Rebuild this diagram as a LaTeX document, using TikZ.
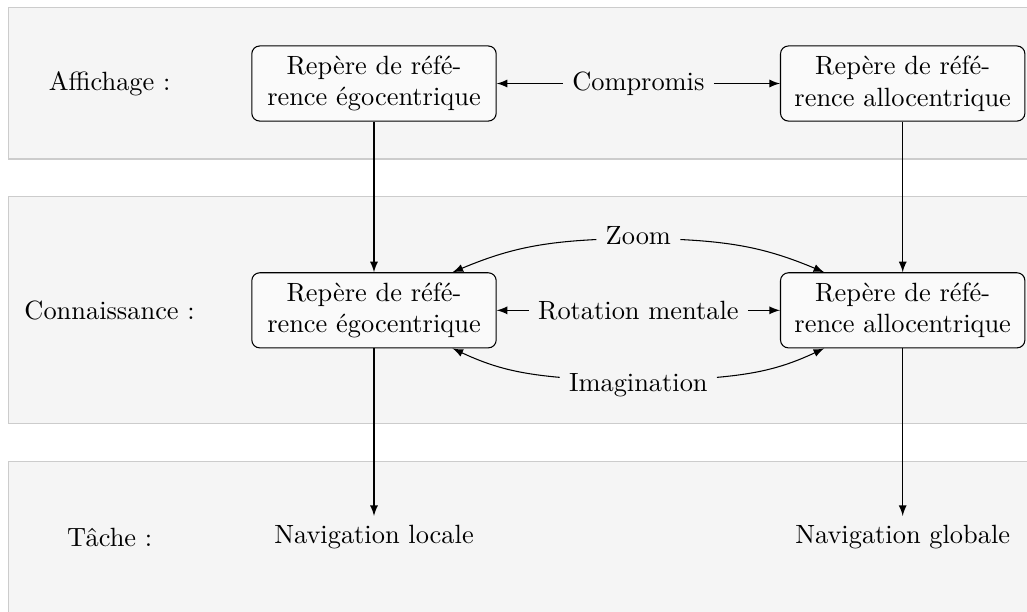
\documentclass[tikz,border=0pt]{standalone}
\usepackage{tikz}
\usetikzlibrary{shapes.geometric, arrows}
\tikzstyle{repere} = [rectangle, rounded corners=3pt, text width=3.02cm, align=center, minimum height=1cm, draw=black, fill=black!2]
\tikzstyle{niveau} = [text centered]
\tikzstyle{arrow} = [->,>=latex]
\tikzstyle{bande} = [fill=black!4]
\tikzstyle{bord} = [draw=black!20]

\begin{document}
\begin{tikzpicture}[node distance=3.52cm, auto]

        % Bandes de fond
        \useasboundingbox (0,0) rectangle (13.675,-8.136);
        \fill [bande] (0.11,-0.097) rectangle (13.8,-2.117);
        \fill [bande] (0.11,-2.619) rectangle (13.8,-5.636);
        \fill [bande] (0.11,-6.148) rectangle (13.8,-8.3);
        \draw [bord] (13.8,-0.097) -- (0.11,-0.097) -- (0.11,-2.117) -- (13.8,-2.117);
        \draw [bord] (13.8,-2.619) -- (0.11,-2.619) -- (0.11,-5.636) -- (13.8,-5.636);
        \draw [bord] (13.8,-6.148) -- (0.11,-6.148) -- (0.11,-8.3);

        % Noeuds du schéma
        \node (ego1) [repere] at (4.98,-1.112) {Repère de réfé-\\rence égocentrique};
        \node (compromis) [right of=ego1] {Compromis};
        \node (allo1) [repere, right of=compromis] {Repère de réfé-\\rence allocentrique};
        \node (affichage) [niveau, left of=ego1] {Affichage :};

        \node (ego2) [repere, node distance=3.02cm, below of=ego1] {Repère de réfé-\\rence égocentrique};
        \node (rotation) [right of=ego2] {Rotation mentale};
        \node (allo2) [repere, right of=rotation] {Repère de réfé-\\rence allocentrique};
        \node (zoom) [node distance=1cm, above of=rotation] {Zoom};
        \node (imagination) [node distance=1cm, below of=rotation] {Imagination};
        \node (connaissance) [niveau, left of=ego2] {Connaissance :};

        \node (navloc) [node distance=3.02cm, below of=ego2] {Navigation locale};
        \node (navglob) [node distance=3.02cm, below of=allo2] {Navigation globale};
        \node (tache) [niveau, left of=navloc] {Tâche :};

        % Connexions entre noeuds
        \draw [arrow] (compromis) -- (ego1);
        \draw [arrow] (compromis) -- (allo1);
        \draw [arrow] (ego1) -- (ego2);
        \draw [arrow] (allo1) -- (allo2);
        \draw [arrow] (rotation) -- (ego2);
        \draw [arrow] (rotation) -- (allo2);
        \draw [arrow] (zoom) to[bend right=10] (ego2);
        \draw [arrow] (zoom) to[bend left=10] (allo2);
        \draw [arrow] (imagination) to[bend left=10] (ego2);
        \draw [arrow] (imagination) to[bend right=10] (allo2);
        \draw [arrow] (ego2) -- (navloc);
        \draw [arrow] (allo2) -- (navglob);

    \end{tikzpicture}
\end{document}
